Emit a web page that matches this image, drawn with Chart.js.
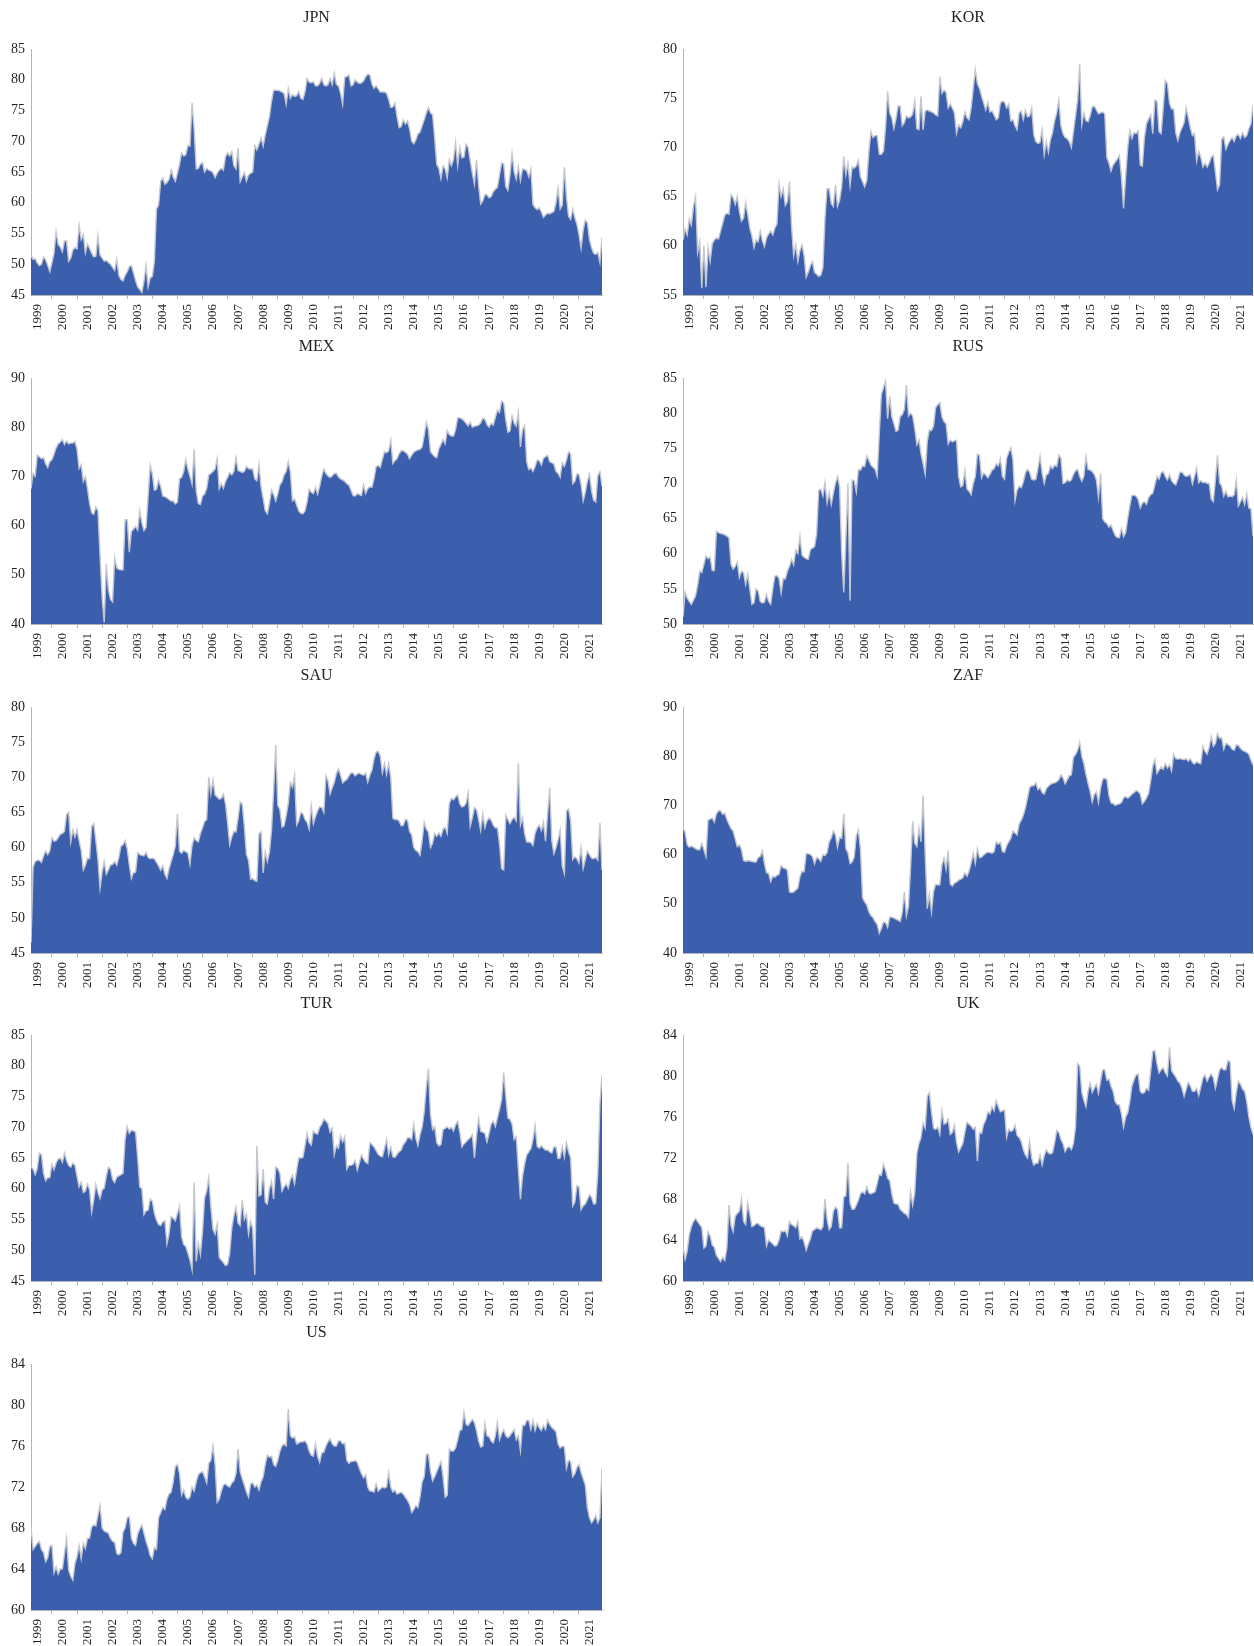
<!DOCTYPE html>
<html>
<head>
<meta charset="utf-8">
<title>Monthly index by country, 1999–2021</title>
<script src="https://cdn.jsdelivr.net/npm/chart.js@4.4.1/dist/chart.umd.min.js"></script>
<style>
  html, body { margin: 0; padding: 0; background: #ffffff; }
  body { width: 1254px; height: 1646px; position: relative; overflow: hidden; }
  .panel { position: absolute; }
</style>
</head>
<body>
<script>
// ---- data -----------------------------------------------------------------
// Monthly observations, March 1999 to December 2021 (one row per year).
const startYear = 1999;
const startMonth = 3;
const yearLabels = [1999, 2000, 2001, 2002, 2003, 2004, 2005, 2006, 2007, 2008, 2009, 2010,
                    2011, 2012, 2013, 2014, 2015, 2016, 2017, 2018, 2019, 2020, 2021];
const countries = ['JPN', 'KOR', 'MEX', 'RUS', 'SAU', 'ZAF', 'TUR', 'UK', 'US'];
const axisMin  = [45, 55, 40, 50, 45, 40, 45, 60, 60];
const axisMax  = [85, 80, 90, 85, 80, 90, 85, 84, 84];
const axisStep = [5, 5, 10, 5, 5, 10, 5, 4, 4];

const jpn = [
  51.5, 50.8, 50.9, 50.2, 49.8, 50.0, 51.2, 50.7, 49.8, 48.8,
  50.2, 51.8, 55.3, 53.2, 52.8, 52.0, 53.8, 53.8, 50.5, 51.0, 52.3, 52.7,
  52.5, 56.3, 54.0, 54.8, 51.8, 53.3, 52.6, 51.8, 51.2, 51.3, 54.6, 51.5,
  51.0, 50.5, 50.6, 50.3, 50.0, 49.5, 49.0, 50.8, 48.2, 47.5, 47.3, 48.2,
  48.8, 49.6, 49.8, 48.6, 47.3, 46.3, 45.9, 45.4, 47.2, 49.8, 46.3, 47.8,
  48.0, 50.5, 59.0, 59.6, 63.5, 64.0, 63.0, 63.3, 63.8, 65.3, 64.2, 63.5,
  64.8, 66.2, 68.1, 67.6, 67.8, 69.3, 69.2, 76.2, 72.0, 65.5, 65.6, 66.3,
  66.5, 65.0, 65.6, 65.3, 65.2, 64.9, 64.1, 64.8, 65.3, 65.6, 65.3, 67.5,
  68.1, 67.6, 68.3, 66.0, 65.5, 68.9, 63.4, 64.2, 64.9, 63.5, 64.5, 64.8,
  65.0, 69.3, 68.6, 69.5, 70.5, 69.2, 71.0, 72.5, 74.0, 76.5, 78.3, 78.3,
  78.3, 78.2, 78.0, 77.8, 76.0, 78.6, 77.0, 77.6, 77.3, 77.4, 78.1, 77.0,
  76.8, 78.0, 80.2, 79.6, 79.5, 79.7, 79.0, 79.0, 79.4, 80.2, 79.2, 79.0,
  79.2, 80.2, 79.2, 81.1, 79.2, 79.0, 77.8, 76.0, 80.4, 80.5, 80.8, 79.0,
  79.2, 80.0, 79.6, 79.4, 79.5, 79.8, 80.5, 80.9, 80.8, 79.3, 78.6, 79.0,
  78.5, 78.0, 78.0, 78.0, 77.8, 76.8, 75.5, 75.6, 76.2, 74.0, 72.2, 72.4,
  73.5, 72.8, 73.3, 72.0, 70.0, 69.6, 70.2, 71.2, 71.5, 72.5, 73.5, 74.6,
  75.5, 74.6, 74.3, 70.5, 66.2, 65.6, 63.9, 66.0, 65.5, 64.0, 67.0, 66.0,
  67.0, 69.8, 66.0, 69.0, 67.3, 67.4, 69.5, 69.0, 66.8, 64.8, 63.0, 67.0,
  62.8, 59.8, 60.3, 61.3, 61.3, 60.8, 61.0, 61.8, 62.2, 62.5, 64.5, 66.5,
  66.3, 62.6, 62.0, 64.5, 68.0, 65.0, 63.8, 65.9, 63.6, 65.5, 65.4, 65.2,
  64.2, 65.5, 59.7, 59.2, 58.9, 59.2, 58.5, 57.6, 58.0, 58.3, 58.2, 58.4,
  58.6, 60.0, 62.4, 59.0, 59.6, 65.8, 61.0, 57.8, 57.3, 59.0, 57.6, 56.5,
  54.8, 52.6, 55.5, 57.2, 56.8, 54.0, 52.7, 51.8, 51.6, 51.9, 50.3, 54.3
];

const kor = [
  60.6, 61.7, 61.1, 62.7, 62.1, 64.0, 65.0, 59.3, 60.4, 55.7,
  60.0, 55.8, 59.8, 58.4, 60.2, 60.6, 60.8, 60.7, 61.5, 62.3, 63.1, 63.3,
  63.2, 65.2, 64.9, 64.2, 65.0, 63.5, 62.5, 62.8, 64.4, 63.2, 61.8, 61.0,
  59.8, 60.6, 60.4, 61.5, 60.5, 59.9, 60.8, 61.2, 61.5, 61.1, 61.8, 62.2,
  66.3, 65.0, 65.8, 64.1, 64.5, 66.5, 62.0, 59.0, 60.1, 58.4, 59.5, 60.1,
  59.0, 56.8, 57.3, 58.0, 58.4, 57.3, 57.1, 56.9, 57.0, 57.8, 62.8, 65.8,
  65.8, 64.3, 64.0, 66.2, 64.0, 64.6, 66.0, 69.1, 67.2, 68.4, 66.1, 68.0,
  67.9, 68.1, 68.7, 67.0, 66.5, 66.0, 66.6, 69.5, 71.6, 71.0, 71.2, 71.2,
  69.3, 69.3, 69.6, 72.0, 75.7, 73.5, 73.0, 71.9, 72.9, 74.2, 74.2, 72.2,
  72.5, 73.2, 73.0, 73.1, 73.4, 74.7, 71.9, 71.8, 75.2, 71.8, 73.7, 73.8,
  73.7, 73.6, 73.5, 73.3, 73.2, 77.2, 75.5, 75.8, 75.6, 74.0, 74.4, 74.0,
  73.5, 71.4, 72.3, 72.0, 72.6, 73.6, 73.0, 72.8, 74.0, 76.0, 77.9, 76.5,
  76.0, 75.2, 74.5, 73.8, 74.6, 73.6, 73.7, 73.3, 72.8, 73.0, 74.5, 74.7,
  74.6, 74.0, 74.4, 72.7, 72.8, 72.2, 71.8, 73.5, 73.7, 72.8, 73.8, 73.1,
  73.2, 74.0, 71.3, 70.6, 70.4, 70.5, 71.8, 69.2, 70.6, 69.5, 70.8, 71.5,
  72.7, 73.5, 74.8, 72.2, 71.4, 71.0, 70.9, 70.6, 70.0, 71.6, 73.2, 74.8,
  78.5, 72.3, 73.5, 72.7, 72.6, 73.2, 74.1, 74.2, 73.8, 73.4, 73.5, 73.6,
  73.4, 69.0, 68.4, 67.6, 68.2, 68.5, 68.8, 69.2, 67.0, 63.8, 67.0, 70.0,
  71.7, 70.9, 71.5, 71.4, 71.7, 68.2, 68.1, 71.0, 72.4, 72.9, 73.3, 71.4,
  74.8, 74.7, 71.6, 71.4, 74.0, 76.8, 76.5, 74.5, 73.9, 73.9, 71.5, 70.7,
  71.5, 72.0, 72.5, 74.0, 73.0, 72.0, 71.2, 71.4, 68.6, 69.6, 69.0, 68.0,
  68.4, 68.0, 68.4, 69.0, 69.2, 67.5, 65.7, 66.2, 70.8, 71.1, 69.8, 70.3,
  70.7, 71.0, 70.6, 71.2, 71.3, 70.9, 71.5, 71.0, 71.2, 71.9, 72.4, 74.3
];

const mex = [
  67.5, 70.6, 70.0, 74.3, 74.0, 73.6, 73.8, 72.6, 71.8, 73.0,
  73.4, 74.5, 75.8, 76.6, 77.0, 77.5, 76.5, 77.2, 76.6, 76.8, 76.8, 77.1,
  75.5, 71.6, 72.4, 69.0, 70.0, 67.5, 64.5, 62.6, 62.3, 63.8, 63.0, 54.0,
  45.5, 40.3, 52.2, 47.0, 45.0, 44.5, 53.4, 51.4, 51.1, 51.0, 51.0, 61.2,
  61.2, 54.6, 58.8, 59.3, 59.8, 59.1, 63.0, 60.6, 59.0, 59.6, 66.0, 72.3,
  70.5, 67.2, 67.4, 69.2, 68.0, 66.0, 65.9, 65.6, 65.3, 65.0, 65.0, 64.4,
  64.8, 69.5, 69.8, 71.0, 73.4, 71.5, 70.0, 68.4, 75.5, 67.0, 64.5, 64.3,
  66.0, 66.4, 67.6, 70.3, 70.6, 71.0, 71.5, 73.6, 67.5, 68.5, 67.6, 69.0,
  69.8, 70.8, 70.3, 71.0, 73.8, 71.2, 71.0, 70.8, 71.0, 72.0, 71.6, 71.5,
  71.5, 69.5, 69.1, 72.4, 67.8, 65.5, 63.0, 62.4, 64.5, 67.2, 66.3, 65.0,
  66.5, 68.3, 68.9, 70.3, 71.0, 73.0, 70.9, 65.0, 65.4, 64.2, 63.0, 62.5,
  62.4, 63.0, 64.8, 67.4, 66.8, 66.5, 67.8, 66.4, 68.0, 70.0, 71.5, 70.6,
  70.1, 69.8, 70.1, 70.6, 70.6, 69.9, 69.5, 69.3, 69.0, 68.5, 68.2, 67.2,
  66.1, 66.0, 66.5, 66.3, 66.1, 68.3, 66.5, 67.5, 67.9, 67.8, 69.5, 72.0,
  72.2, 71.8, 73.5, 75.0, 74.8, 75.2, 77.4, 72.6, 73.2, 73.6, 74.6, 75.2,
  75.2, 74.9, 74.5, 73.6, 74.3, 74.9, 75.2, 75.4, 75.5, 76.0, 78.3, 81.0,
  79.5, 75.0, 74.5, 74.0, 73.8, 75.6, 76.5, 77.5, 76.6, 79.3, 78.5, 78.2,
  78.2, 79.5, 81.9, 81.9, 81.7, 81.3, 80.8, 80.3, 81.0, 80.0, 80.2, 80.3,
  80.4, 80.9, 81.8, 81.6, 80.5, 80.0, 80.8, 80.4, 82.0, 83.5, 83.0, 85.3,
  85.0, 81.5, 79.0, 79.2, 82.3, 80.8, 80.2, 83.0, 76.0, 79.5, 80.3, 73.0,
  71.4, 71.7, 71.0, 72.0, 73.3, 73.2, 72.3, 73.7, 74.0, 74.3, 73.0, 72.8,
  72.5, 71.0, 70.6, 69.8, 72.8, 72.0, 73.3, 75.0, 74.6, 68.5, 69.0, 70.5,
  70.4, 68.3, 65.0, 66.7, 69.0, 70.5, 67.0, 65.2, 64.8, 70.2, 71.0, 68.0
];

const rus = [
  51.0, 54.5, 53.7, 53.2, 52.8, 53.4, 54.0, 55.5, 57.5, 57.3,
  58.5, 59.7, 59.3, 59.5, 57.6, 57.6, 63.2, 63.0, 62.9, 62.8, 62.7, 62.5,
  62.3, 58.5, 57.8, 58.2, 58.8, 56.6, 57.5, 57.3, 55.6, 57.1, 55.0, 52.8,
  53.0, 55.0, 54.7, 53.2, 53.0, 53.1, 54.2, 53.2, 52.8, 55.0, 56.8, 56.9,
  56.5, 54.4, 56.5, 56.4, 57.5, 58.2, 59.2, 58.4, 60.5, 60.0, 62.5, 59.8,
  59.5, 59.3, 59.2, 60.6, 60.8, 61.0, 62.8, 69.0, 69.2, 68.2, 70.1, 67.2,
  68.7, 67.0, 68.6, 70.0, 71.0, 69.5, 60.0, 54.5, 62.0, 70.0, 53.3, 70.5,
  70.4, 68.8, 72.0, 71.9, 72.5, 72.4, 73.9, 73.3, 72.6, 72.3, 72.0, 71.0,
  77.0, 82.6, 83.6, 84.6, 79.2, 82.4, 79.5, 78.5, 77.4, 77.6, 79.5, 79.8,
  80.5, 84.0, 79.6, 80.0, 79.6, 77.8, 75.5, 76.2, 74.2, 72.8, 71.3, 76.0,
  77.6, 77.5, 78.2, 80.8, 81.2, 81.5, 79.5, 78.8, 78.5, 75.6, 76.2, 75.9,
  76.1, 76.1, 71.0, 69.5, 69.7, 71.8, 69.2, 68.9, 68.4, 70.0, 71.0, 74.2,
  74.0, 70.8, 71.5, 71.2, 70.8, 71.3, 71.9, 72.1, 72.8, 72.5, 73.5, 71.0,
  70.6, 73.6, 74.4, 75.1, 73.4, 67.5, 69.0, 69.6, 69.4, 70.2, 71.5, 72.0,
  71.6, 70.6, 70.5, 70.6, 72.1, 73.9, 71.5, 70.0, 71.2, 71.4, 72.5, 72.1,
  72.6, 72.4, 74.0, 73.6, 70.0, 70.1, 70.5, 70.3, 70.5, 71.3, 71.8, 72.0,
  71.0, 70.3, 71.0, 73.8, 72.0, 71.9, 71.7, 71.3, 70.5, 68.0, 71.4, 65.0,
  64.5, 64.3, 63.8, 64.1, 63.3, 62.6, 62.3, 62.3, 63.6, 62.4, 63.0, 65.0,
  66.8, 68.3, 68.3, 68.2, 67.7, 66.5, 67.2, 67.4, 67.0, 68.0, 68.4, 68.6,
  69.8, 71.0, 70.6, 71.5, 71.7, 71.0, 70.5, 71.2, 70.4, 70.0, 69.8, 70.6,
  71.6, 71.6, 71.2, 71.0, 71.1, 71.3, 69.9, 71.0, 72.2, 70.1, 70.4, 70.1,
  70.2, 70.0, 70.0, 67.8, 67.4, 70.5, 74.0, 70.1, 69.6, 68.2, 68.9, 68.1,
  68.2, 68.1, 68.4, 70.5, 66.8, 67.4, 68.0, 67.0, 68.5, 66.5, 66.4, 62.5
];

const sau = [
  46.5, 57.2, 58.0, 58.2, 58.2, 57.9, 58.8, 59.5, 59.0, 59.5,
  61.4, 60.9, 61.0, 61.4, 61.9, 62.0, 62.3, 64.7, 65.0, 60.8, 62.5, 61.5,
  62.5, 61.0, 59.6, 56.8, 57.5, 58.5, 58.4, 63.0, 63.4, 61.0, 58.3, 54.2,
  56.5, 58.0, 56.2, 56.8, 57.5, 57.6, 58.0, 57.5, 58.6, 60.2, 60.4, 61.0,
  59.8, 57.5, 55.6, 56.4, 56.5, 59.3, 59.0, 58.9, 58.8, 59.3, 58.6, 58.4,
  58.5, 58.4, 57.9, 57.4, 56.8, 57.4, 56.2, 55.6, 57.0, 58.0, 59.0, 60.2,
  64.8, 59.5, 59.2, 59.6, 59.4, 59.2, 57.6, 60.3, 61.4, 61.0, 60.8, 62.0,
  62.8, 63.7, 64.0, 70.0, 67.6, 69.6, 67.5, 67.2, 66.9, 67.0, 67.6, 66.2,
  63.5, 60.4, 61.5, 62.3, 62.2, 64.2, 66.5, 66.2, 63.0, 59.0, 58.2, 55.5,
  55.6, 55.3, 55.2, 62.0, 62.2, 56.4, 59.4, 58.0, 59.3, 62.5, 68.0, 74.6,
  66.0, 65.4, 62.9, 63.1, 64.5, 66.3, 69.3, 68.6, 70.3, 63.2, 63.8, 65.0,
  64.8, 64.0, 63.6, 62.6, 66.0, 63.4, 64.4, 65.2, 65.8, 65.7, 65.0, 70.2,
  69.5, 67.6, 68.5, 69.3, 70.5, 71.2, 70.3, 69.2, 69.5, 69.7, 70.2, 70.6,
  70.6, 70.2, 70.5, 70.6, 70.4, 70.3, 70.6, 69.3, 70.3, 71.0, 72.6, 73.6,
  73.7, 73.0, 70.6, 72.0, 70.4, 71.9, 70.0, 64.2, 64.0, 64.0, 63.8, 63.1,
  63.2, 64.0, 63.9, 62.3, 61.8, 60.0, 59.6, 59.4, 58.9, 61.0, 63.6, 62.6,
  62.2, 60.0, 60.6, 62.0, 61.6, 62.1, 61.6, 62.6, 62.9, 62.0, 66.3, 67.0,
  66.8, 67.2, 67.5, 66.2, 65.8, 65.9, 66.3, 67.8, 63.0, 64.2, 65.7, 65.4,
  64.0, 62.4, 64.8, 62.8, 63.8, 64.2, 63.9, 63.2, 62.8, 62.8, 60.5, 57.0,
  56.8, 64.6, 64.0, 63.4, 64.0, 64.3, 63.8, 72.0, 63.2, 64.3, 62.0, 60.8,
  60.8, 60.7, 60.3, 62.0, 62.8, 63.2, 62.4, 63.6, 60.9, 64.8, 68.5, 61.0,
  59.1, 60.0, 61.1, 62.5, 57.4, 56.3, 65.2, 65.5, 63.8, 58.3, 58.7, 58.4,
  57.8, 60.0, 57.0, 58.3, 59.5, 59.0, 58.5, 58.4, 58.6, 58.2, 63.5, 56.8
];

const zaf = [
  65.5, 64.5, 62.0, 61.5, 61.7, 61.5, 61.2, 61.0, 61.0, 62.3,
  61.0, 59.6, 67.0, 67.2, 67.4, 66.6, 68.3, 68.9, 68.9, 68.2, 68.4, 67.2,
  66.2, 65.3, 64.8, 63.2, 61.6, 62.0, 61.0, 58.8, 58.6, 58.8, 58.7, 58.6,
  58.5, 58.5, 59.4, 59.6, 60.8, 58.2, 56.3, 56.2, 54.5, 55.6, 55.4, 55.8,
  56.0, 57.8, 57.3, 57.2, 56.8, 52.4, 52.3, 52.4, 52.8, 53.2, 55.5, 56.6,
  56.5, 60.2, 60.2, 60.0, 59.6, 58.1, 59.4, 59.2, 58.6, 60.0, 59.8, 60.4,
  62.6, 63.4, 64.8, 64.0, 61.5, 63.5, 63.3, 68.3, 61.2, 60.4, 58.2, 58.5,
  59.5, 63.8, 65.0, 61.0, 51.2, 50.4, 49.8, 48.4, 47.6, 47.2, 46.4, 45.8,
  44.0, 45.0, 46.3, 46.2, 45.2, 47.3, 47.3, 47.1, 46.9, 46.7, 46.4, 48.2,
  52.4, 47.5, 49.5, 57.5, 66.8, 62.3, 61.6, 65.4, 62.6, 72.0, 60.0, 49.0,
  52.0, 48.3, 52.5, 54.0, 53.8, 53.9, 57.8, 59.3, 57.0, 60.8, 54.0, 53.6,
  54.2, 54.4, 54.8, 55.0, 55.3, 56.3, 55.6, 56.6, 58.3, 60.2, 58.2, 61.2,
  59.4, 59.5, 59.9, 60.3, 60.5, 60.4, 60.3, 60.6, 62.6, 62.1, 62.5, 60.6,
  60.5, 61.8, 62.6, 63.3, 64.8, 64.4, 64.0, 66.2, 67.0, 68.0, 69.5, 71.5,
  73.6, 74.0, 74.0, 74.6, 73.2, 73.6, 72.6, 72.3, 73.4, 73.9, 74.3, 74.5,
  74.6, 74.8, 75.2, 76.2, 75.6, 74.4, 75.2, 76.0, 76.2, 79.8, 80.3, 81.2,
  82.8, 80.0, 78.5, 76.3, 74.5, 72.8, 70.7, 72.2, 72.8, 70.6, 73.5, 75.3,
  75.5, 75.3, 72.0, 70.5, 70.4, 70.0, 70.2, 70.3, 70.6, 71.5, 71.8, 71.5,
  71.8, 72.3, 72.6, 73.0, 72.8, 72.3, 70.3, 70.8, 71.5, 72.4, 75.0, 78.0,
  79.3, 76.5, 77.2, 77.8, 77.3, 78.5, 77.6, 78.3, 77.0, 80.4, 79.5, 79.4,
  79.5, 79.4, 79.3, 79.5, 79.0, 79.5, 78.7, 78.4, 78.9, 78.6, 78.5, 82.0,
  81.0, 80.4, 81.8, 84.0, 82.0, 82.6, 84.6, 83.6, 83.8, 81.4, 82.6, 82.4,
  82.1, 81.4, 81.2, 82.3, 82.2, 81.6, 81.2, 81.0, 80.8, 80.4, 79.2, 78.2
];

const tur = [
  63.5, 63.2, 62.3, 63.3, 65.8, 65.5, 62.5, 61.3, 61.8, 61.8,
  64.0, 63.1, 64.2, 64.8, 65.0, 64.3, 65.8, 64.6, 63.8, 63.5, 64.2, 63.8,
  62.0, 60.3, 61.1, 59.4, 59.6, 60.8, 59.8, 56.2, 58.2, 60.7, 59.4, 58.4,
  59.8, 60.1, 62.0, 63.5, 63.2, 61.5, 61.0, 61.9, 62.1, 62.3, 62.5, 68.0,
  70.1, 69.0, 69.5, 69.4, 69.2, 65.0, 60.3, 60.0, 55.8, 56.4, 56.5, 58.3,
  58.0, 56.0, 54.9, 54.2, 54.0, 54.6, 54.8, 51.0, 52.6, 55.5, 55.2, 54.8,
  56.0, 57.2, 52.2, 50.9, 50.6, 49.5, 48.4, 46.8, 61.0, 48.2, 51.2, 49.3,
  53.0, 58.5, 59.6, 61.8, 57.0, 53.4, 52.6, 54.2, 48.8, 48.4, 48.0, 47.5,
  47.7, 49.5, 53.6, 55.6, 57.0, 54.4, 54.0, 58.2, 55.0, 55.9, 52.6, 54.7,
  53.5, 46.0, 67.0, 58.8, 59.0, 63.2, 57.8, 57.5, 60.0, 61.2, 58.3, 63.5,
  63.3, 62.5, 59.6, 60.3, 60.8, 60.1, 61.5, 62.2, 60.8, 63.0, 65.0, 65.0,
  65.1, 67.0, 69.0, 67.5, 67.1, 69.4, 69.0, 68.9, 70.0, 70.5, 71.3, 71.0,
  70.6, 69.2, 69.9, 65.5, 67.0, 66.6, 68.6, 67.6, 68.5, 63.2, 63.8, 63.8,
  64.0, 64.6, 63.0, 64.2, 65.5, 64.8, 64.3, 64.1, 67.5, 67.2, 66.8, 66.2,
  65.6, 65.3, 65.2, 66.5, 68.0, 65.5, 66.8, 65.2, 65.1, 65.6, 66.0, 66.3,
  67.2, 67.6, 68.3, 68.3, 68.0, 70.5, 68.2, 67.0, 68.8, 70.0, 72.5, 76.5,
  79.5, 72.0, 69.6, 70.1, 67.5, 67.0, 67.2, 69.6, 69.8, 70.1, 69.7, 70.0,
  69.4, 70.4, 71.0, 69.2, 66.8, 67.3, 67.6, 68.0, 68.3, 68.8, 65.0, 68.5,
  71.4, 69.3, 69.2, 69.0, 67.6, 69.0, 70.5, 71.0, 70.1, 71.5, 72.9, 74.5,
  78.9, 75.0, 71.5, 71.3, 70.5, 68.0, 68.5, 63.2, 58.3, 62.0, 64.0, 65.5,
  66.0, 66.5, 68.0, 70.3, 66.9, 66.6, 67.0, 66.6, 66.3, 66.3, 66.0, 65.8,
  66.8, 66.8, 64.9, 65.0, 66.8, 65.1, 67.5, 66.0, 65.0, 57.2, 57.8, 60.5,
  60.3, 56.6, 57.2, 57.5, 58.2, 59.0, 58.6, 57.5, 57.6, 62.5, 73.8, 78.5
];

const uk = [
  63.4, 62.1, 62.9, 64.5, 65.3, 65.8, 66.1, 65.8, 65.5, 65.2,
  63.2, 63.4, 64.8, 64.4, 63.5, 63.3, 62.5, 62.2, 61.9, 62.3, 62.0, 63.2,
  67.4, 65.4, 64.8, 66.3, 66.6, 66.8, 68.0, 65.8, 65.5, 67.6, 66.5, 65.3,
  65.4, 65.6, 65.6, 65.4, 65.3, 65.2, 63.4, 64.0, 63.8, 63.6, 63.4, 63.5,
  64.0, 64.9, 64.8, 64.9, 64.4, 65.8, 65.5, 65.4, 65.2, 65.8, 64.1, 64.3,
  63.8, 63.0, 63.6, 64.1, 64.9, 65.0, 65.2, 65.1, 65.0, 65.3, 68.0, 66.0,
  65.0, 65.3, 66.8, 67.2, 67.0, 65.2, 65.2, 68.2, 68.3, 71.5, 67.6, 67.0,
  67.0, 67.4, 67.9, 68.5, 68.7, 68.5, 69.2, 68.6, 68.5, 68.6, 68.7, 69.5,
  70.4, 70.3, 71.4, 70.8, 70.0, 69.8, 68.5, 67.6, 67.5, 67.5, 67.0, 66.8,
  66.6, 66.5, 66.2, 68.7, 67.4, 68.6, 72.4, 73.4, 74.0, 75.4, 74.9, 78.0,
  78.4, 76.5, 74.9, 74.8, 75.0, 74.3, 76.6, 75.3, 75.4, 75.8, 74.3, 74.5,
  75.2, 73.5, 72.6, 73.0, 73.4, 74.5, 75.5, 75.3, 75.1, 74.8, 75.0, 71.7,
  74.5, 74.4, 75.3, 75.7, 76.5, 76.3, 77.0, 76.6, 77.6, 77.0, 76.5, 76.6,
  76.7, 74.0, 74.8, 74.6, 74.7, 75.2, 74.2, 74.0, 73.6, 72.8, 72.3, 72.0,
  73.6, 72.0, 71.3, 71.5, 71.5, 72.3, 71.3, 72.2, 72.8, 72.5, 72.4, 72.5,
  73.5, 74.7, 74.5, 73.8, 73.4, 72.6, 73.0, 73.1, 72.8, 73.4, 75.0, 81.2,
  81.0, 78.4, 77.6, 77.0, 78.5, 79.3, 78.4, 78.8, 79.2, 78.3, 79.5, 80.6,
  80.6, 79.6, 79.7, 79.0, 78.5, 77.5, 77.2, 77.2, 76.3, 75.0, 76.0, 76.4,
  77.5, 79.0, 79.6, 80.1, 80.2, 78.5, 78.3, 78.4, 78.8, 78.6, 80.5, 82.4,
  82.5, 81.2, 80.3, 80.6, 80.8, 80.3, 80.0, 82.8, 80.5, 80.2, 79.9, 79.5,
  79.3, 78.8, 78.0, 78.7, 79.4, 79.0, 78.5, 78.5, 78.8, 78.1, 78.9, 79.8,
  80.1, 79.5, 79.9, 80.2, 79.8, 78.8, 79.7, 80.6, 80.8, 80.6, 80.6, 81.5,
  81.4, 77.6, 76.8, 78.4, 79.5, 79.2, 78.7, 78.5, 77.5, 76.0, 75.0, 74.3
];

const us = [
  68.0, 65.9, 66.2, 66.5, 66.7, 65.9, 65.6, 64.7, 65.1, 66.2,
  66.3, 63.6, 64.2, 63.5, 64.0, 64.0, 65.5, 67.0, 63.9, 63.3, 62.9, 64.5,
  65.2, 66.3, 65.0, 66.5, 66.0, 67.0, 67.0, 68.1, 68.3, 68.2, 69.2, 70.2,
  68.0, 67.7, 67.6, 67.5, 67.0, 66.7, 66.6, 65.5, 65.4, 65.6, 67.6, 68.0,
  69.0, 69.1, 67.0, 66.5, 66.3, 67.4, 67.9, 68.3, 67.5, 66.7, 66.1, 65.3,
  65.0, 66.1, 65.9, 69.0, 69.5, 70.0, 69.8, 70.8, 71.3, 71.5, 72.5, 74.0,
  74.2, 73.3, 71.2, 71.7, 71.0, 70.8, 71.0, 72.0, 71.6, 72.5, 73.2, 73.4,
  73.5, 73.0, 72.4, 74.3, 74.6, 76.0, 74.2, 70.5, 70.8, 71.6, 72.2, 72.3,
  72.1, 72.0, 72.4, 72.6, 73.3, 75.7, 73.5, 72.8, 72.2, 71.5, 71.0, 72.3,
  72.4, 72.0, 72.2, 71.7, 72.5, 73.0, 74.2, 75.1, 74.9, 75.0, 74.2, 74.0,
  74.6, 75.5, 76.0, 76.2, 76.0, 79.6, 77.0, 76.8, 76.9, 76.2, 76.3, 76.4,
  76.4, 76.5, 76.2, 75.5, 75.1, 75.0, 76.2, 75.0, 74.4, 75.3, 75.4, 76.0,
  76.4, 76.7, 76.2, 76.0, 76.0, 76.5, 76.5, 76.2, 76.3, 74.6, 74.3, 74.5,
  74.5, 74.6, 74.4, 73.8, 73.3, 72.9, 73.2, 72.0, 71.6, 71.6, 71.5, 72.3,
  71.6, 71.8, 72.0, 71.9, 72.0, 73.4, 72.0, 71.5, 71.7, 71.3, 71.4, 71.5,
  71.3, 71.0, 70.7, 70.3, 69.5, 69.8, 70.2, 70.0, 71.0, 72.5, 73.0, 75.2,
  75.2, 73.5, 72.6, 73.0, 73.5, 74.0, 74.5, 73.0, 71.0, 71.2, 75.7, 75.5,
  75.5, 75.8, 76.6, 77.5, 77.6, 79.3, 78.1, 78.0, 78.3, 78.6, 78.3, 77.5,
  76.5, 75.9, 76.0, 78.2, 77.0, 76.9, 76.5, 76.3, 77.0, 78.3, 76.6, 77.2,
  77.6, 77.0, 76.8, 77.0, 77.3, 77.6, 76.6, 77.0, 75.5, 78.0, 78.0, 78.5,
  78.5, 77.6, 78.5, 77.5, 78.2, 77.8, 77.5, 78.0, 77.6, 78.5, 78.1, 77.8,
  77.6, 77.4, 76.2, 75.8, 76.0, 75.9, 73.8, 74.6, 74.5, 73.0, 73.3, 73.9,
  74.2, 73.4, 72.8, 72.2, 70.0, 69.0, 68.5, 68.8, 69.2, 68.5, 69.0, 73.8
];

const seriesValues = [jpn, kor, mex, rus, sau, zaf, tur, uk, us];

// ---- appearance ------------------------------------------------------------
const SERIF = "'Liberation Serif', 'Times New Roman', serif";
const FILL = '#3b5fad';
const EDGE = '#c4c7cf';
const AXIS = '#b4b4b4';
const TEXT = '#1f1f1f';
const SIDE = 31;          // width reserved for the value axis on each side
const ROW_PITCH = 328.75;

// Decimal-year position of each monthly observation.
function monthPositions(n) {
  const xs = [];
  for (let i = 0; i < n; i++) xs.push(startYear + (startMonth - 1 + i) / 12);
  return xs;
}

function makePanel(idx) {
  const col = idx % 2;
  const row = Math.floor(idx / 2);
  const box = document.createElement('div');
  box.className = 'panel';
  // plot width 571 (left column) / 570 (right column), with an empty
  // strip of the same width as the value axis on the right so the title
  // is centred over the plot
  const w = (col === 0 ? 571 : 570) + 2 * SIDE;
  const h = 345;
  box.style.left = (col === 0 ? 0 : 652) + 'px';
  box.style.top = Math.round(row * ROW_PITCH) + 'px';
  box.style.width = w + 'px';
  box.style.height = h + 'px';
  const canvas = document.createElement('canvas');
  canvas.width = w;
  canvas.height = h;
  box.appendChild(canvas);
  document.body.appendChild(box);

  const values = seriesValues[idx];
  const xs = monthPositions(values.length);
  const points = values.map((v, k) => ({ x: xs[k], y: v }));

  new Chart(canvas, {
    type: 'line',
    data: {
      datasets: [{
        data: points,
        yAxisID: 'y',
        fill: 'start',
        backgroundColor: FILL,
        borderColor: EDGE,
        borderWidth: 1.4,
        pointRadius: 0,
        tension: 0
      }]
    },
    options: {
      responsive: false,
      animation: false,
      events: [],
      layout: { padding: 0 },
      plugins: {
        legend: { display: false },
        tooltip: { enabled: false },
        title: {
          display: true,
          text: countries[idx],
          color: TEXT,
          font: { family: SERIF, size: 16, weight: 'normal', lineHeight: 1.2 },
          padding: { top: 8.4, bottom: 21.4 }
        }
      },
      scales: {
        x: {
          type: 'linear',
          min: xs[0],
          max: xs[xs.length - 1],
          afterBuildTicks: (s) => { s.ticks = yearLabels.map(y => ({ value: y })); },
          afterFit: (s) => { s.height = 50; },
          grid: {
            drawOnChartArea: false,
            drawTicks: true,
            tickLength: 4,
            // the 1999 label sits before the first observation: no tick mark there
            tickColor: (c) => (c.tick && c.tick.value < xs[0] ? 'rgba(0,0,0,0)' : AXIS),
            color: AXIS
          },
          border: { display: true, color: AXIS, width: 1 },
          ticks: {
            autoSkip: false,
            minRotation: 90,
            maxRotation: 90,
            padding: 5,
            labelOffset: 10.5,
            color: TEXT,
            font: { family: SERIF, size: 13 },
            callback: (v) => String(v)
          }
        },
        y: {
          position: 'left',
          min: axisMin[idx],
          max: axisMax[idx],
          afterFit: (s) => { s.width = SIDE; },
          grid: { display: false, drawTicks: false },
          border: { display: true, color: AXIS, width: 1 },
          ticks: {
            stepSize: axisStep[idx],
            padding: 6,
            color: TEXT,
            font: { family: SERIF, size: 14 }
          }
        },
        spacer: {
          type: 'linear',
          position: 'right',
          afterFit: (s) => { s.width = SIDE; },
          grid: { display: false, drawTicks: false },
          border: { display: false },
          ticks: { display: false }
        }
      }
    }
  });
}

countries.forEach((_, i) => makePanel(i));
</script>
</body>
</html>
